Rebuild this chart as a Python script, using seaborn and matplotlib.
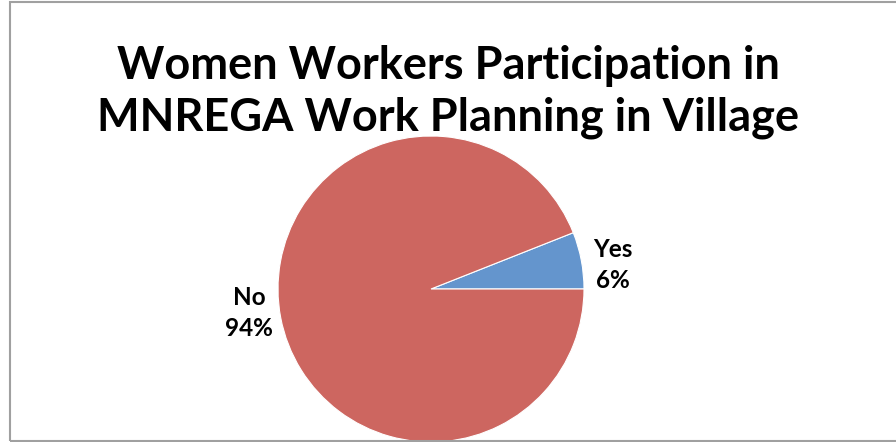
import matplotlib
matplotlib.use("Agg")
import matplotlib.pyplot as plt
import seaborn as sns
from matplotlib.patches import Rectangle

categories = ["Yes", "No"]
shares = [6, 94]
slice_colors = ["#6495CD", "#CD6660"]
title = "Women Workers Participation in\nMNREGA Work Planning in Village"

sns.set_theme(style="white")
plt.rcParams["font.family"] = ["Lato", "DejaVu Sans"]

W, H = 896, 442
fig = plt.figure(figsize=(W / 100, H / 100), dpi=100)
fig.patch.set_facecolor("white")

# chart frame (open on the right side)
fig.add_artist(Rectangle((9.5 / W, 1.5 / H), 1.0, 438.5 / H,
                         transform=fig.transFigure, fill=False,
                         edgecolor="#A0A0A0", linewidth=1.5, clip_on=False))

cx, cy, r = 431, 289, 153
ax = fig.add_axes([(cx - r) / W, (H - cy - r) / H, 2 * r / W, 2 * r / H])
wedges, texts = ax.pie(
    shares,
    labels=[f"{c}\n{v}%" for c, v in zip(categories, shares)],
    colors=slice_colors,
    startangle=0,
    counterclock=True,
    labeldistance=1.2,
    wedgeprops=dict(edgecolor="white", linewidth=0.8),
    textprops=dict(fontsize=17.5, fontweight="bold", color="black",
                   ha="center", va="center", linespacing=1.45),
)
# outside labels sit closer to the horizontal axis
for t in texts:
    x, y = t.get_position()
    t.set_position((x * 1.01, y * 0.7))
    t.set_horizontalalignment("center")
ax.set_xlim(-1, 1)
ax.set_ylim(-1, 1)
ax.set_aspect("equal")
ax.axis("off")

fig.text(0.5, 1 - 92 / H, title, ha="center", va="center",
         fontsize=32.5, fontweight="bold", color="black", linespacing=1.3)

fig.savefig("out.png", dpi=100, facecolor="white")
